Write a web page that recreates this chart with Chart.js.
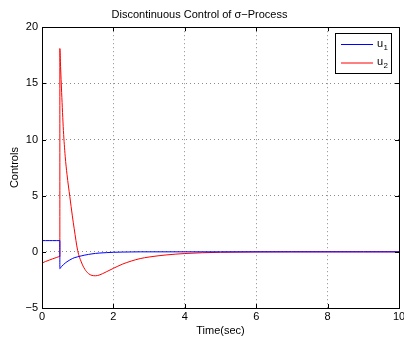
<!DOCTYPE html>
<html>
<head>
<meta charset="utf-8">
<script src="https://cdn.jsdelivr.net/npm/chart.js@4/dist/chart.umd.min.js"></script>
<style>
html,body{margin:0;padding:0;background:#fff;}
#wrap{width:404px;height:340px;position:relative;}
</style>
</head>
<body>
<div id="wrap"><canvas id="c" width="404" height="340"></canvas></div>
<script>
// ---- data ----
const timeSec = [0, 0.1, 0.2, 0.3, 0.4, 0.5, 0.5, 0.52, 0.55, 0.6, 0.65, 0.7, 0.78, 0.85, 0.9, 1.0, 1.1, 1.2, 1.3, 1.4, 1.5, 1.6, 1.8, 2.0, 2.25, 2.5, 2.75, 3.0, 3.5, 4.0, 4.5, 5.0, 6.0, 7.0, 8.0, 9.0, 10.0];
const u1 = [1, 1, 1, 1, 1, 1, -1.5, -1.42, -1.3, -1.14, -1.0, -0.88, -0.72, -0.6, -0.53, -0.44, -0.36, -0.29, -0.23, -0.18, -0.14, -0.11, -0.07, -0.04, -0.02, -0.01, 0, 0, 0, 0, 0, 0, 0, 0, 0, 0, 0];
const u2 = [-1.0, -0.86, -0.74, -0.62, -0.51, -0.42, 18.1, 16.5, 14.2, 10.8, 8.5, 6.9, 4.9, 3.2, 2.1, 0.1, -0.9, -1.55, -1.93, -2.1, -2.13, -2.07, -1.78, -1.47, -1.1, -0.82, -0.6, -0.46, -0.27, -0.15, -0.08, -0.04, -0.01, 0, 0, 0, 0];
const seriesNames = ['u', 'u'];
const seriesSubs = ['1', '2'];
const xTicks = [0, 2, 4, 6, 8, 10];
const yTicks = [-5, 0, 5, 10, 15, 20];
const titleText = 'Discontinuous Control of \u03c3\u2212Process';
const xTitle = 'Time(sec)';
const yTitle = 'Controls';

const FONT = '"Liberation Sans", Arial, Helvetica, sans-serif';
const toPts = (ys) => ys.map((y, i) => ({x: timeSec[i], y: y}));

const framePlugin = {
  id: 'frame',
  afterDraw(chart) {
    const ctx = chart.ctx, a = chart.chartArea;
    const xs = chart.scales.x, ys = chart.scales.y;
    ctx.save();
    ctx.strokeStyle = '#000';
    ctx.lineWidth = 1;
    ctx.setLineDash([]);
    ctx.strokeRect(Math.round(a.left) + 0.5, Math.round(a.top) + 0.5, Math.round(a.right - a.left), Math.round(a.bottom - a.top));
    const L = 4;
    ctx.beginPath();
    xTicks.forEach(v => {
      const px = Math.round(xs.getPixelForValue(v)) + 0.5;
      ctx.moveTo(px, a.bottom); ctx.lineTo(px, a.bottom - L);
      ctx.moveTo(px, a.top); ctx.lineTo(px, a.top + L);
    });
    yTicks.forEach(v => {
      const py = Math.round(ys.getPixelForValue(v)) + 0.5;
      ctx.moveTo(a.left, py); ctx.lineTo(a.left + L, py);
      ctx.moveTo(a.right, py); ctx.lineTo(a.right - L, py);
    });
    ctx.stroke();

    // legend
    const bx = 335.5, by = 33.5, bw = 56, bh = 40;
    ctx.fillStyle = '#fff';
    ctx.fillRect(bx, by, bw, bh);
    ctx.strokeStyle = '#000';
    ctx.strokeRect(bx, by, bw, bh);
    chart.data.datasets.forEach((ds, i) => {
      const y = 44.5 + i * 18.5;
      ctx.strokeStyle = ds.borderColor;
      ctx.lineWidth = 1;
      ctx.beginPath(); ctx.moveTo(341, y); ctx.lineTo(373, y); ctx.stroke();
      ctx.fillStyle = '#000';
      ctx.textBaseline = 'middle';
      ctx.textAlign = 'left';
      ctx.font = '11px ' + FONT;
      ctx.fillText(seriesNames[i], 377, y - 1);
      ctx.font = '8px ' + FONT;
      ctx.fillText(seriesSubs[i], 383.5, y + 3);
    });
    ctx.restore();
  }
};

new Chart(document.getElementById('c'), {
  type: 'line',
  data: {
    datasets: [
      {label: 'u1', data: toPts(u1), borderColor: '#0000ff', borderWidth: 1, pointRadius: 0, tension: 0, cubicInterpolationMode: 'monotone', fill: false},
      {label: 'u2', data: toPts(u2), borderColor: '#ff0000', borderWidth: 1, pointRadius: 0, tension: 0, cubicInterpolationMode: 'monotone', fill: false}
    ]
  },
  options: {
    responsive: false,
    animation: false,
    events: [],
    layout: {padding: {left: 0, right: 5, top: 0, bottom: 0}},
    plugins: {
      legend: {display: false},
      tooltip: {enabled: false},
      title: {
        display: true, text: titleText, color: '#000',
        font: {family: FONT, size: 11, weight: 'normal'},
        padding: {top: 8, bottom: 6}
      }
    },
    scales: {
      x: {
        type: 'linear', min: 0, max: 10,
        afterBuildTicks: (s) => { s.ticks = xTicks.map(v => ({value: v})); },
        afterFit: (s) => { s.height = 32; s.paddingLeft = 0; s.paddingRight = 0; },
        ticks: {color: '#000', font: {family: FONT, size: 11}, padding: 2, maxRotation: 0, autoSkip: false,
                callback: (v) => String(v).replace('-', '\u2212')},
        grid: {color: '#8c8c8c', lineWidth: 1, drawTicks: false},
        border: {display: false, dash: [1, 3]},
        title: {display: true, text: xTitle, color: '#000', font: {family: FONT, size: 11}, padding: {top: 0, bottom: 2}}
      },
      y: {
        type: 'linear', min: -5, max: 20,
        afterBuildTicks: (s) => { s.ticks = yTicks.map(v => ({value: v})); },
        afterFit: (s) => { s.width = 42; },
        ticks: {color: '#000', font: {family: FONT, size: 11}, padding: 4, autoSkip: false,
                callback: (v) => String(v).replace('-', '\u2212')},
        grid: {color: '#8c8c8c', lineWidth: 1, drawTicks: false},
        border: {display: false, dash: [1, 3]},
        title: {display: true, text: yTitle, color: '#000', font: {family: FONT, size: 11}, padding: {top: 8, bottom: 0}}
      }
    }
  },
  plugins: [framePlugin]
});
</script>
</body>
</html>
